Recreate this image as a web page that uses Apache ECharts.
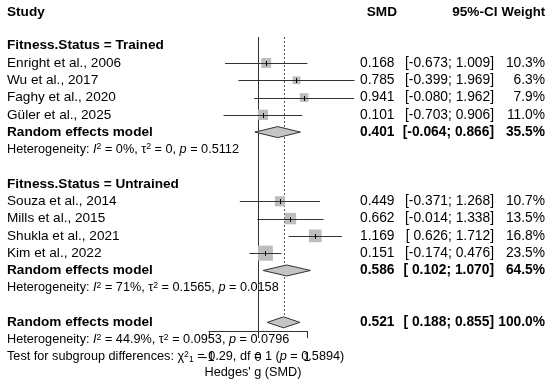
<!DOCTYPE html>
<html><head><meta charset="utf-8">
<script src="https://cdn.jsdelivr.net/npm/echarts/dist/echarts.min.js"></script>
<style>html,body{margin:0;padding:0;background:#fff}#c{width:550px;height:388px}</style>
</head><body><div id="c"></div><script>
// ---------- data ----------
const groupLabels = ['Fitness.Status = Trained', 'Fitness.Status = Untrained'];
const trainedStudies = ['Enright et al., 2006', 'Wu et al., 2017', 'Faghy et al., 2020', 'Güler et al., 2025'];
const trainedSMD = [0.168, 0.785, 0.941, 0.101];
const trainedLower = [-0.673, -0.399, -0.080, -0.703];
const trainedUpper = [1.009, 1.969, 1.962, 0.906];
const trainedWeight = [10.3, 6.3, 7.9, 11.0];
const untrainedStudies = ['Souza et al., 2014', 'Mills et al., 2015', 'Shukla et al., 2021', 'Kim et al., 2022'];
const untrainedSMD = [0.449, 0.662, 1.169, 0.151];
const untrainedLower = [-0.371, -0.014, 0.626, -0.174];
const untrainedUpper = [1.268, 1.338, 1.712, 0.476];
const untrainedWeight = [10.7, 13.5, 16.8, 23.5];
// models: trained, untrained, overall
const modelLabel = 'Random effects model';
const modelSMD = [0.401, 0.586, 0.521];
const modelLower = [-0.064, 0.102, 0.188];
const modelUpper = [0.866, 1.070, 0.855];
const modelWeight = [35.5, 64.5, 100.0];
const hetI2 = ['0%', '71%', '44.9%'];
const hetTau2 = ['0', '0.1565', '0.0953'];
const hetP = ['0.5112', '0.0158', '0.0796'];
const subgroupChi2 = '0.29';
const subgroupDf = '1';
const subgroupP = '0.5894';
const headers = ['Study', 'SMD', '95%-CI', 'Weight'];
const xTicks = [-1, 0, 1];
const xLabel = "Hedges' g (SMD)";

// ---------- layout ----------
const FONT = '"Liberation Sans", Arial, Helvetica, sans-serif';
const FS = 13.6, FS_NUM = 13.8, FS_SMALL = 12.7;
const X_STUDY = 7, X_SMD = 394.5, X_CI = 494, X_W = 545;
const X_HSMD = 397, X_HCI = 497.5, X_HW = 545;

function f3(v) { const s = v.toFixed(3); return v >= 0 ? ' ' + s : s; }
function ci(l, u) { return '[' + f3(l) + ';' + f3(u) + ']'; }

const groups = [
  {label: groupLabels[0], names: trainedStudies, smd: trainedSMD, lo: trainedLower, hi: trainedUpper, w: trainedWeight},
  {label: groupLabels[1], names: untrainedStudies, smd: untrainedSMD, lo: untrainedLower, hi: untrainedUpper, w: untrainedWeight}
];

const textRows = [];
const studyPts = [];
const diamonds = [];
textRows.push({row: 0.05, cells: [
  {t: headers[0], x: X_STUDY, b: 1},
  {t: headers[1], x: X_HSMD, a: 'right', b: 1},
  {t: headers[2], x: X_HCI, a: 'right', b: 1},
  {t: headers[3], x: X_HW, a: 'right', b: 1, s: 13.1}
]});
function hetText(k) {
  return 'Heterogeneity: {it|I}{sup|2} = ' + hetI2[k] + ', τ{sup|2} = ' + hetTau2[k] + ', {it|p} = ' + hetP[k];
}
function numCells(smd, l, u, w, bold) {
  return [
    {t: smd.toFixed(3), x: X_SMD, a: 'right', b: bold, s: FS_NUM},
    {t: ci(l, u), x: X_CI, a: 'right', b: bold, s: FS_NUM},
    {t: w.toFixed(1) + '%', x: X_W, a: 'right', b: bold, s: FS_NUM}
  ];
}
let row = 2;
groups.forEach((g, gi) => {
  textRows.push({row: row, cells: [{t: g.label, x: X_STUDY, b: 1}]});
  row++;
  g.names.forEach((n, i) => {
    textRows.push({row: row, cells: [{t: n, x: X_STUDY}].concat(numCells(g.smd[i], g.lo[i], g.hi[i], g.w[i], 0))});
    studyPts.push([g.smd[i], row, g.lo[i], g.hi[i], g.w[i]]);
    row++;
  });
  textRows.push({row: row, cells: [{t: modelLabel, x: X_STUDY, b: 1}].concat(numCells(modelSMD[gi], modelLower[gi], modelUpper[gi], modelWeight[gi], 1))});
  diamonds.push([modelSMD[gi], row, modelLower[gi], modelUpper[gi]]);
  row++;
  textRows.push({row: row, cells: [{t: hetText(gi), x: X_STUDY, s: FS_SMALL}]});
  row += 2;
});
textRows.push({row: row, cells: [{t: modelLabel, x: X_STUDY, b: 1}].concat(numCells(modelSMD[2], modelLower[2], modelUpper[2], modelWeight[2], 1))});
diamonds.push([modelSMD[2], row, modelLower[2], modelUpper[2]]);
const overallRow = row;
row++;
textRows.push({row: row, cells: [{t: hetText(2), x: X_STUDY, s: FS_SMALL}]});
row++;
textRows.push({row: row, cells: [{t: 'Test for subgroup differences: χ{sup|2}{sub|1} = ' + subgroupChi2 + ', df = ' + subgroupDf + ' ({it|p} = ' + subgroupP + ')', x: X_STUDY, s: FS_SMALL}]});
row++;
textRows.push({row: row - 0.1, cells: [{t: xLabel, x: 253, a: 'center', s: FS_SMALL}]});

const DH = 5.5; // diamond half height

function renderText(params, api) {
  const r = textRows[params.dataIndex];
  const y = api.coord([0, api.value(1)])[1];
  return {type: 'group', children: r.cells.map(c => {
    const s = c.s || FS;
    const fw = c.b ? 'bold' : 'normal';
    const base = {fontFamily: FONT, fontSize: s, fontWeight: fw, fill: '#000'};
    return {type: 'text', style: Object.assign({
      text: c.t, x: c.x, y: y, align: c.a || 'left', verticalAlign: 'middle',
      rich: {
        it: Object.assign({}, base, {fontStyle: 'italic'}),
        sup: Object.assign({}, base, {fontSize: s * 0.68, verticalAlign: 'top', lineHeight: s * 1.1}),
        sub: Object.assign({}, base, {fontSize: s * 0.68, verticalAlign: 'bottom', lineHeight: s * 1.1})
      }
    }, base)};
  })};
}
function renderStudy(params, api) {
  const p = api.coord([api.value(0), api.value(1)]);
  const l = api.coord([api.value(2), api.value(1)]);
  const u = api.coord([api.value(3), api.value(1)]);
  const side = 3.1 * Math.sqrt(api.value(4));
  const y = Math.round(p[1]) + 0.5;
  return {type: 'group', children: [
    {type: 'rect', shape: {x: p[0] - side / 2, y: p[1] - side / 2, width: side, height: side}, style: {fill: '#bdbdbd'}},
    {type: 'line', shape: {x1: l[0], y1: y, x2: u[0], y2: y}, style: {stroke: '#333', lineWidth: 1}},
    {type: 'line', shape: {x1: Math.round(p[0]) + 0.5, y1: y - 2.5, x2: Math.round(p[0]) + 0.5, y2: y + 2.5}, style: {stroke: '#000', lineWidth: 1}}
  ]};
}
function renderDiamond(params, api) {
  const c = api.coord([api.value(0), api.value(1)]);
  const l = api.coord([api.value(2), api.value(1)]);
  const u = api.coord([api.value(3), api.value(1)]);
  return {type: 'polygon', shape: {points: [[l[0], c[1]], [c[0], c[1] - DH], [u[0], c[1]], [c[0], c[1] + DH]]},
    style: {fill: '#c4c4c4', stroke: '#333', lineWidth: 1}};
}
function renderRefs(params, api) {
  const top = api.coord([0, 1.5])[1];
  const bot = api.coord([0, 18.5])[1];
  const x0 = Math.round(api.coord([0, 0])[0]) + 0.5;
  const xd = Math.round(api.coord([api.value(0), 0])[0]) + 0.5;
  const dBot = api.coord([0, api.value(1)])[1] - DH;
  return {type: 'group', children: [
    {type: 'line', shape: {x1: x0, y1: top, x2: x0, y2: bot}, style: {stroke: '#333', lineWidth: 1}},
    {type: 'line', shape: {x1: xd, y1: top, x2: xd, y2: dBot}, style: {stroke: '#555', lineWidth: 1, lineDash: [2, 2]}}
  ]};
}

const chart = echarts.init(document.getElementById('c'), null, {renderer: 'canvas'});
chart.setOption({
  animation: false,
  backgroundColor: '#fff',
  grid: {left: 209, right: 243, top: 37, bottom: 57, containLabel: false},
  xAxis: {
    type: 'value', min: xTicks[0], max: xTicks[xTicks.length - 1], interval: 1,
    axisLine: {show: true, onZero: false, lineStyle: {color: '#333', width: 1}},
    axisTick: {show: true, length: 7, lineStyle: {color: '#333'}},
    axisLabel: {show: true, margin: 20, fontSize: FS_SMALL, fontFamily: FONT, color: '#000'},
    splitLine: {show: false}
  },
  yAxis: {type: 'value', min: 1.5, max: 18.5, inverse: true, show: false, splitLine: {show: false}},
  series: [
    {type: 'custom', silent: true, clip: false, renderItem: renderText, data: textRows.map(r => [0, r.row]), z: 1},
    {type: 'custom', silent: true, clip: false, renderItem: renderRefs, data: [[modelSMD[2], overallRow]], z: 2},
    {type: 'custom', silent: true, clip: false, renderItem: renderStudy, data: studyPts, z: 3},
    {type: 'custom', silent: true, clip: false, renderItem: renderDiamond, data: diamonds, z: 4}
  ]
});
</script></body></html>
